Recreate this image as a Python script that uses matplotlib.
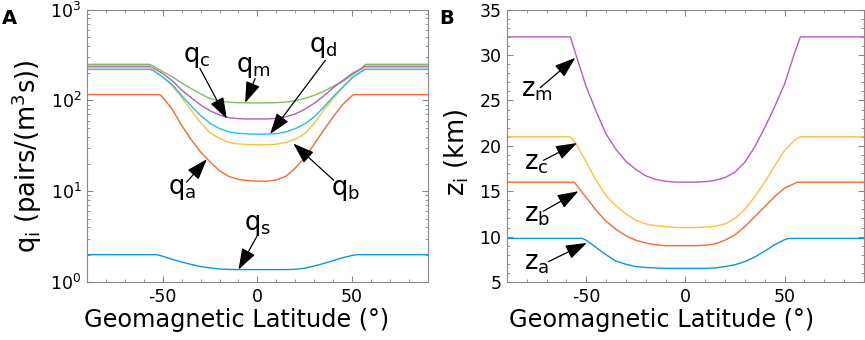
import matplotlib
matplotlib.use("Agg")
import matplotlib.pyplot as plt
from matplotlib.ticker import MultipleLocator, LogLocator, NullFormatter

# ---------------- Panel A data: ion-pair production rates ----------------
lat_qm = [-90, -57, -55, -50, -45, -40, -35, -30, -25, -20, -15, -10, -5, 0, 5, 10, 15, 20, 25, 30, 35, 40, 45, 50, 55, 57, 90]
q_m = [250, 250, 240, 208, 182, 156, 135, 118, 105, 99, 95.5, 94.5, 94, 94, 94, 94.5, 96, 99, 105, 114, 126, 143, 162, 190, 225, 250, 250]

lat_qc = [-90, -57, -55, -50, -45, -40, -35, -30, -25, -20, -15, -10, -5, 0, 5, 10, 15, 20, 25, 30, 35, 40, 45, 50, 55, 57, 90]
q_c = [238, 238, 228, 198, 165, 130, 107, 89, 77, 69, 64.5, 63, 62.5, 62.5, 62.5, 63.5, 66, 71, 80, 93, 112, 138, 165, 198, 225, 238, 238]

lat_qb = [-90, -56.5, -55, -50, -45, -40, -35, -30, -25, -20, -15, -10, -5, 0, 5, 10, 15, 20, 25, 30, 35, 40, 45, 50, 55, 57, 90]
q_b = [230, 230, 220, 180, 145, 108, 78, 57, 44, 38, 34.5, 33.2, 32.7, 32.5, 32.5, 33, 34.5, 37.5, 43, 56, 78, 105, 137, 178, 212, 230, 230]

lat_qd = [-90, -56.5, -55, -50, -45, -40, -35, -30, -25, -20, -15, -10, -5, 0, 5, 10, 15, 20, 25, 30, 35, 40, 45, 50, 55, 57, 90]
q_d = [220, 220, 212, 181, 150, 113, 87, 68, 56, 49, 45, 43.5, 42.7, 42.5, 42.5, 43, 45, 49, 55, 66, 84, 110, 140, 177, 208, 220, 220]

lat_qa = [-90, -51.5, -50, -45, -40, -35, -30, -25, -20, -15, -10, -5, 0, 5, 10, 15, 20, 25, 30, 35, 40, 45, 50, 51, 90]
q_a = [116, 116, 108, 80, 53, 37, 27, 21, 16.8, 14.5, 13.5, 13.1, 12.9, 12.9, 13.3, 14.6, 18, 23.5, 33, 47, 66, 90, 113, 116, 116]

lat_qs = [-90, -53, -50, -45, -40, -35, -30, -25, -20, -15, -10, -5, 0, 5, 10, 15, 20, 25, 30, 35, 40, 45, 50, 52.5, 90]
q_s = [2.0, 2.0, 1.92, 1.78, 1.66, 1.56, 1.48, 1.43, 1.39, 1.375, 1.37, 1.37, 1.37, 1.37, 1.37, 1.37, 1.38, 1.42, 1.5, 1.6, 1.72, 1.85, 1.96, 2.0, 2.0]

# ---------------- Panel B data: altitudes ----------------
lat_zm = [-90, -58, -55, -50, -45, -40, -35, -30, -25, -20, -15, -10, -5, 0, 5, 10, 15, 20, 25, 30, 35, 40, 45, 50, 55, 58, 90]
z_m = [32, 32, 29.9, 26.5, 23.8, 21.3, 19.6, 18.3, 17.4, 16.7, 16.3, 16.1, 16.0, 16.0, 16.0, 16.05, 16.2, 16.5, 17.1, 18.2, 19.9, 22.0, 24.3, 26.8, 30.2, 32, 32]

lat_zc = [-90, -58, -55, -50, -45, -40, -35, -30, -25, -20, -15, -10, -5, 0, 5, 10, 15, 20, 25, 30, 35, 40, 45, 50, 55, 58, 90]
z_c = [21, 21, 20.2, 18.2, 16.2, 14.5, 13.4, 12.5, 11.8, 11.4, 11.2, 11.1, 11.0, 11.0, 11.0, 11.05, 11.15, 11.4, 12.0, 13.0, 14.4, 16.0, 17.8, 19.5, 20.6, 21, 21]

lat_zb = [-90, -56, -55, -50, -45, -40, -35, -30, -25, -20, -15, -10, -5, 0, 5, 10, 15, 20, 25, 30, 35, 40, 45, 50, 55, 56.5, 90]
z_b = [16, 16, 15.7, 14.3, 12.9, 11.7, 10.8, 10.1, 9.6, 9.3, 9.1, 9.0, 9.0, 9.0, 9.0, 9.05, 9.2, 9.6, 10.2, 11.1, 12.2, 13.3, 14.4, 15.35, 15.85, 16, 16]

lat_za = [-90, -52, -50, -45, -40, -35, -30, -25, -20, -15, -10, -5, 0, 5, 10, 15, 20, 25, 30, 35, 40, 45, 50, 52, 90]
z_a = [9.8, 9.8, 9.6, 8.8, 8.0, 7.3, 6.95, 6.7, 6.6, 6.55, 6.5, 6.5, 6.5, 6.5, 6.5, 6.55, 6.7, 6.9, 7.25, 7.75, 8.4, 9.1, 9.65, 9.8, 9.8]

x_ticks = [-50, 0, 50]
xlabel = "Geomagnetic Latitude (°)"

C_GREEN = "#80C060"
C_PURPLE = "#B060C0"
C_YELLOW = "#FFC040"
C_CYAN = "#20C0F0"
C_ORANGE = "#FF6830"
C_BLUE = "#0898D8"

plt.rcParams['font.family'] = ['DejaVu Sans']
plt.rcParams['mathtext.default'] = 'regular'
plt.rcParams['axes.unicode_minus'] = False

fig = plt.figure(figsize=(8.65, 3.4), dpi=100)
axA = fig.add_axes([0.1006, 0.1706, 0.394, 0.801])
axB = fig.add_axes([0.586, 0.1706, 0.4127, 0.801])

GRAY = "#888888"

def style(ax, xl_x):
    for s in ax.spines.values():
        s.set_color(GRAY)
        s.set_linewidth(0.8)
    ax.tick_params(which='both', direction='in', top=True, right=True, color=GRAY, labelsize=12.5)
    ax.tick_params(which='major', length=4, pad=4)
    ax.tick_params(which='minor', length=2)
    ax.set_xlim(-90, 90)
    ax.set_xticks(x_ticks)
    ax.xaxis.set_minor_locator(MultipleLocator(10))
    ax.set_xlabel(xlabel, fontsize=17.3)
    ax.xaxis.set_label_coords(xl_x, -0.095)

lw = 1.0
axA.plot(lat_qm, q_m, color=C_GREEN, lw=lw)
axA.plot(lat_qc, q_c, color=C_PURPLE, lw=lw)
axA.plot(lat_qb, q_b, color=C_YELLOW, lw=lw)
axA.plot(lat_qd, q_d, color=C_CYAN, lw=lw)
axA.plot(lat_qa, q_a, color=C_ORANGE, lw=lw)
axA.plot(lat_qs, q_s, color=C_BLUE, lw=lw)
axA.set_yscale('log')
axA.set_ylim(1, 1000)
axA.yaxis.set_minor_locator(LogLocator(base=10, subs=range(2, 10)))
axA.yaxis.set_minor_formatter(NullFormatter())
style(axA, 0.44)
axA.set_ylabel("q$_i$ (pairs/(m$^3$s))", fontsize=18.5)
axA.yaxis.set_label_coords(-0.125, 0.46)

axB.plot(lat_zm, z_m, color=C_PURPLE, lw=lw)
axB.plot(lat_zc, z_c, color=C_YELLOW, lw=lw)
axB.plot(lat_zb, z_b, color=C_ORANGE, lw=lw)
axB.plot(lat_za, z_a, color=C_BLUE, lw=lw)
axB.set_ylim(5, 35)
axB.set_yticks([5, 10, 15, 20, 25, 30, 35])
axB.yaxis.set_minor_locator(MultipleLocator(1))
style(axB, 0.434)
axB.set_ylabel("z$_i$ (km)", fontsize=18.5)
axB.yaxis.set_label_coords(-0.1, 0.477)

arrow = dict(arrowstyle="-|>,head_length=1.3,head_width=0.45", color='k', lw=0.9, shrinkA=0, shrinkB=0)

def lab(ax, text, txy, tail, tip):
    ax.text(txy[0], txy[1], text, fontsize=18.5, ha='center', va='center')
    ax.annotate('', xy=tip, xytext=tail, arrowprops=arrow)

lab(axA, "q$_c$", (-32, 300), (-30.4, 226), (-16.2, 63))
lab(axA, "q$_m$", (-2.3, 232), (-1.2, 174), (-6.5, 94))
lab(axA, "q$_d$", (34.8, 385), (35.9, 277), (6.7, 42.7))
lab(axA, "q$_b$", (46.5, 10.2), (40.3, 13.2), (19, 33.5))
lab(axA, "q$_a$", (-40, 10.7), (-37.4, 12.6), (-26.7, 22.5))
lab(axA, "q$_s$", (0, 4.2), (0.5, 3.41), (-10, 1.37))

lab(axB, "z$_m$", (-75, 26.2), (-73.2, 26.4), (-55.5, 29.7))
lab(axB, "z$_c$", (-75, 18.1), (-71.6, 18.4), (-54.7, 20.3))
lab(axB, "z$_b$", (-75, 12.4), (-71.6, 12.8), (-53.9, 15.0))
lab(axB, "z$_a$", (-75, 7.07), (-69, 7.25), (-49.7, 9.3))

fig.text(0.002, 0.975, "A", fontsize=14, fontweight='bold', va='top', ha='left')
fig.text(0.508, 0.975, "B", fontsize=14, fontweight='bold', va='top', ha='left')

fig.savefig("out.png", dpi=100)
